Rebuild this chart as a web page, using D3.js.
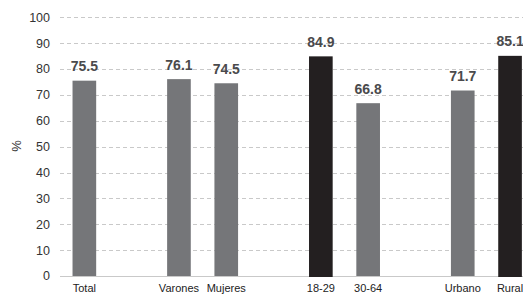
<!DOCTYPE html>
<html>
<head>
<meta charset="utf-8">
<script src="https://cdn.jsdelivr.net/npm/d3@7"></script>
<style>
  html, body { margin: 0; padding: 0; background: #fff; }
  svg { display: block; font-family: "Liberation Sans", Arial, sans-serif; }
</style>
</head>
<body>
<svg id="chart" width="523" height="297"></svg>
<script>
// ---- data ----
const groups = [["Total"], ["Varones", "Mujeres"], ["18-29", "30-64"], ["Urbano", "Rural"]];
const categories = ["Total", "Varones", "Mujeres", "18-29", "30-64", "Urbano", "Rural"];
const values = [75.5, 76.1, 74.5, 84.9, 66.8, 71.7, 85.1];
const highlighted = ["18-29", "Rural"];
const yTicks = [0, 10, 20, 30, 40, 50, 60, 70, 80, 90, 100];
const yLabel = "%";

// ---- layout ----
const W = 523, H = 297;
const svg = d3.select("#chart");

// domain with spacer slots between groups
const domain = [];
groups.forEach((g, i) => {
  if (i > 0) domain.push("__gap" + i);
  g.forEach(c => domain.push(c));
});

const x = d3.scaleBand().domain(domain).range([60.7, 533.7])
  .paddingInner(0.5).paddingOuter(0.25);
const y = d3.scaleLinear().domain([0, 100]).range([276, 17.3]);

const data = categories.map((c, i) => ({ cat: c, val: values[i] }));

// gridlines
svg.append("g").selectAll("line")
  .data(yTicks.filter(t => t > 0))
  .join("line")
  .attr("x1", 60).attr("x2", W)
  .attr("y1", d => Math.round(y(d)) + 0.5).attr("y2", d => Math.round(y(d)) + 0.5)
  .attr("stroke", "#c9c9c9").attr("stroke-width", 1)
  .attr("stroke-dasharray", "4,3");

// y tick labels
svg.append("g").selectAll("text")
  .data(yTicks)
  .join("text")
  .attr("x", 50).attr("y", d => y(d))
  .attr("dy", "0.35em")
  .attr("text-anchor", "end")
  .attr("font-size", 12.5)
  .attr("fill", "#333")
  .text(d => d);

// y axis label
svg.append("text")
  .attr("transform", "translate(21,146) rotate(-90)")
  .attr("text-anchor", "middle")
  .attr("font-size", 13)
  .attr("fill", "#333")
  .text(yLabel);

// baseline
svg.append("line")
  .attr("x1", 60).attr("x2", W)
  .attr("y1", Math.round(y(0)) + 0.5).attr("y2", Math.round(y(0)) + 0.5)
  .attr("stroke", "#c9c9c9").attr("stroke-width", 1);

// bars
svg.append("g").selectAll("rect")
  .data(data)
  .join("rect")
  .attr("x", d => x(d.cat))
  .attr("width", x.bandwidth())
  .attr("y", d => y(d.val))
  .attr("height", d => y(0) - y(d.val) + (highlighted.includes(d.cat) ? 1 : 0))
  .attr("fill", d => highlighted.includes(d.cat) ? "#231f20" : "#757679");

// value labels
svg.append("g").selectAll("text")
  .data(data)
  .join("text")
  .attr("x", d => x(d.cat) + x.bandwidth() / 2)
  .attr("y", d => y(d.val) - 9.5)
  .attr("text-anchor", "middle")
  .attr("font-size", 14)
  .attr("font-weight", "bold")
  .attr("fill", "#4a4a4c")
  .text(d => d.val.toFixed(1));

// category labels
svg.append("g").selectAll("text")
  .data(data)
  .join("text")
  .attr("x", d => x(d.cat) + x.bandwidth() / 2)
  .attr("y", 292)
  .attr("text-anchor", "middle")
  .attr("font-size", 11)
  .attr("fill", "#222")
  .text(d => d.cat);
</script>
</body>
</html>
